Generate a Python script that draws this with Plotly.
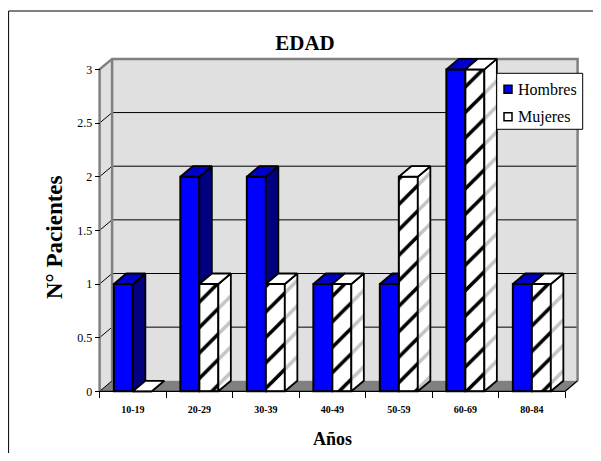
import plotly.graph_objects as go

# ---------------- data ----------------
categories = ['10-19', '20-29', '30-39', '40-49', '50-59', '60-69', '80-84']
hombres = [1, 2, 2, 1, 1, 3, 1]
mujeres = [0, 1, 1, 1, 2, 3, 1]
y_ticks = [0, 0.5, 1, 1.5, 2, 2.5, 3]
series_names = ['Hombres', 'Mujeres']

# ---------------- layout calibration (window pixels) ----------------
WIN_W, WIN_H = 601, 461
OFF = 8                      # default page body margin
W, H = WIN_W - 2 * OFF, WIN_H - 2 * OFF
PX0, UX = 99.6, 66.5      # pixel of x=-0.5, pixels per category
PY0, UY = 391.3, 107.3    # pixel of y=0, pixels per unit
DXP, DYP = 12.5, 10.5     # 3D depth offset in pixels
BWP = 19.0                # bar front width in pixels
L, R, T, B = 93.0, 585.0, 52.0, 398.0   # plot area (window pixels)

DX = DXP / UX
DY = DYP / UY
BW = BWP / UX
XMIN = -0.5 - (PX0 - L) / UX
XMAX = -0.5 + (R - PX0) / UX
YMIN = -(B - PY0) / UY
YMAX = (PY0 - T) / UY
YTOP = max(y_ticks)
n = len(categories)
X0, X1 = -0.5, n - 0.5


def pxx(p):
    return (p - L) / (R - L)


def pxy(p):
    return (B - p) / (B - T)


FONT = 'Liberation Serif'
BLUE, BLUE_TOP, BLUE_SIDE = '#0000FF', '#0000C8', '#000080'
WALL, FLOOR, EDGE = '#E0E0E0', '#808080', '#808080'

fig = go.Figure()
idx = list(range(n))

# front faces
fig.add_trace(go.Bar(
    x=idx, y=hombres, base=0, offset=-BW, width=BW, name=series_names[0],
    marker=dict(color=BLUE, line=dict(color='black', width=2)),
    showlegend=False, hoverinfo='skip'))
fig.add_trace(go.Bar(
    x=idx, y=mujeres, base=0, offset=0, width=BW, name=series_names[1],
    marker=dict(color='white', line=dict(color='black', width=2),
                pattern=dict(shape='/', fgcolor='black', bgcolor='white', fgopacity=1,
                             size=18, solidity=0.2)),
    showlegend=False, hoverinfo='skip'))


def poly(xs, ys, color, pattern=None):
    kw = dict(x=xs + [xs[0]], y=ys + [ys[0]], mode='lines', fill='toself',
              fillcolor=color, line=dict(color='black', width=1.8),
              showlegend=False, hoverinfo='skip')
    if pattern:
        kw['fillpattern'] = pattern
    fig.add_trace(go.Scatter(**kw))


# Hombres side / top faces (clipped where Mujeres covers them)
for i in idx:
    h, m = hombres[i], mujeres[i]
    xl, xr = i - BW, i
    if h > m:
        poly([xr, xr + DX, xr + DX, xr], [m, m + DY, h + DY, h], BLUE_SIDE)
    if m > h:
        poly([xl, xr, xr, xl + DX], [h, h, h + DY, h + DY], BLUE_TOP)
    else:
        poly([xl, xr, xr + DX, xl + DX], [h, h, h + DY, h + DY], BLUE_TOP)

# Mujeres side / top faces
side_pat = dict(shape='/', fgcolor='#c4c4c4', bgcolor='white', fgopacity=1, size=18, solidity=0.2)
for i in idx:
    m = mujeres[i]
    xl, xr = i, i + BW
    if m > 0:
        poly([xr, xr + DX, xr + DX, xr], [0, DY, m + DY, m], 'white', side_pat)
    poly([xl, xr, xr + DX, xl + DX], [m, m, m + DY, m + DY], 'white')

# ---------------- walls, floor, gridlines ----------------
shapes = []
shapes.append(dict(type='rect', xref='x', yref='y', x0=X0 + DX, x1=X1 + DX, y0=DY, y1=YTOP + DY,
                   fillcolor=WALL, line=dict(width=0), layer='below'))
shapes.append(dict(type='path', xref='x', yref='y',
                   path=f'M{X0},0 L{X0+DX},{DY} L{X0+DX},{YTOP+DY} L{X0},{YTOP} Z',
                   fillcolor=WALL, line=dict(width=0), layer='below'))
shapes.append(dict(type='path', xref='x', yref='y',
                   path=f'M{X0},0 L{X1},0 L{X1+DX},{DY} L{X0+DX},{DY} Z',
                   fillcolor=FLOOR, line=dict(width=0), layer='below'))
for v in y_ticks[1:-1]:
    shapes.append(dict(type='line', xref='x', yref='y', x0=X0 + DX, x1=X1 + DX, y0=v + DY, y1=v + DY,
                       line=dict(color='black', width=1), layer='below'))
for v in y_ticks[:-1]:
    shapes.append(dict(type='line', xref='x', yref='y', x0=X0, x1=X0 + DX, y0=v, y1=v + DY,
                       line=dict(color='black', width=1), layer='below'))
shapes.append(dict(type='path', xref='x', yref='y',
                   path=f'M{X0},0 L{X0},{YTOP} L{X0+DX},{YTOP+DY} L{X1+DX},{YTOP+DY} L{X1+DX},{DY}',
                   line=dict(color=EDGE, width=2.5), layer='below'))
shapes.append(dict(type='line', xref='x', yref='y', x0=X0 + DX, x1=X0 + DX, y0=DY, y1=YTOP + DY,
                   line=dict(color=EDGE, width=2.5), layer='below'))
# x axis line with depth edge
shapes.append(dict(type='path', xref='x', yref='y',
                   path=f'M{X0},0 L{X1},0 L{X1+DX},{DY}',
                   line=dict(color='black', width=1.2), layer='above'))

# outer chart border
shapes.append(dict(type='rect', xref='paper', yref='paper', x0=pxx(8.6), x1=pxx(700),
                   y0=pxy(600), y1=pxy(11), line=dict(color='black', width=1),
                   fillcolor='rgba(0,0,0,0)', layer='above'))

# custom legend box and swatches
LG_X0, LG_X1, LG_Y0, LG_Y1 = 496.7, 582.7, 73.3, 129.3
LG_ROWS = [89.3, 116.7]
shapes.append(dict(type='rect', xref='paper', yref='paper', x0=pxx(LG_X0), x1=pxx(LG_X1),
                   y0=pxy(LG_Y1), y1=pxy(LG_Y0), fillcolor='white',
                   line=dict(color='black', width=1), layer='above'))
sw_colors = [BLUE, 'white']
for yc, col in zip(LG_ROWS, sw_colors):
    shapes.append(dict(type='rect', xref='paper', yref='paper', x0=pxx(504), x1=pxx(512),
                       y0=pxy(yc + 4), y1=pxy(yc - 4), fillcolor=col,
                       line=dict(color='black', width=1.5), layer='above'))

annotations = []
for yc, name in zip(LG_ROWS, series_names):
    annotations.append(dict(text=name, xref='paper', yref='paper', x=pxx(516), y=pxy(yc),
                            xanchor='left', yanchor='middle', showarrow=False,
                            font=dict(family=FONT, size=16, color='black')))
annotations.append(dict(text='<b>N° Pacientes</b>', xref='paper', yref='paper',
                        x=pxx(54.5), y=pxy(237.5), textangle=-90, showarrow=False,
                        xanchor='center', yanchor='middle',
                        font=dict(family=FONT, size=23, color='black')))
annotations.append(dict(text='<b>Años</b>', xref='paper', yref='paper',
                        x=pxx(332), y=pxy(439), showarrow=False,
                        xanchor='center', yanchor='middle',
                        font=dict(family=FONT, size=18, color='black')))

fig.update_layout(
    width=W, height=H,
    margin=dict(l=L - OFF, r=WIN_W - OFF - R, t=T - OFF, b=WIN_H - OFF - B, autoexpand=False),
    paper_bgcolor='white', plot_bgcolor='white',
    barmode='overlay', showlegend=False,
    title=dict(text='<b>EDAD</b>', x=(305 - OFF) / W, y=1 - (42.7 - OFF) / H,
               xref='container', yref='container',
               xanchor='center', yanchor='middle', font=dict(family=FONT, size=21, color='black')),
    shapes=shapes, annotations=annotations,
    xaxis=dict(range=[XMIN, XMAX], tickmode='array', tickvals=idx, ticktext=categories,
               ticks='outside', ticklen=9, tickcolor='rgba(0,0,0,0)',
               tickfont=dict(family=FONT, size=10, color='black', weight='bold'),
               showgrid=False, zeroline=False, showline=False,
               anchor='free', position=pxy(PY0),
               minor=dict(tickmode='array', tickvals=[i - 0.5 for i in range(n + 1)],
                          ticks='outside', ticklen=6, tickcolor='black', tickwidth=1,
                          showgrid=False)),
    yaxis=dict(range=[YMIN, YMAX], tickmode='array', tickvals=y_ticks,
               ticktext=[f'{v:g}' for v in y_ticks],
               ticks='outside', ticklen=5, tickcolor='black', tickwidth=1,
               tickfont=dict(family=FONT, size=12, color='black'),
               showgrid=False, zeroline=False, showline=False,
               anchor='free', position=pxx(PX0)),
)

fig.write_html('out.html')
